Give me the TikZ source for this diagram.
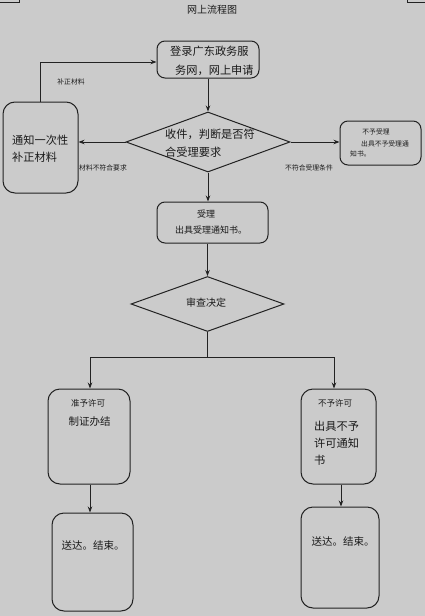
\documentclass[tikz,border=0pt]{standalone}
\usepackage{fontspec}
\setmainfont{Noto Sans CJK SC}
\usetikzlibrary{arrows.meta,shapes.geometric}
\definecolor{bg}{HTML}{CBCBCB}
\definecolor{ln}{HTML}{222222}
\definecolor{tx}{HTML}{1A1A1A}
\tikzset{
  box/.style={draw=ln, line width=1pt, rounded corners=#1, inner sep=0pt},
  box/.default=8pt,
  dia/.style={draw=ln, line width=1pt, diamond, inner sep=0pt},
  arr/.style={draw=ln, line width=1pt, -{Stealth[length=6pt,width=4.5pt]}},
  conn/.style={draw=ln, line width=1pt},
  txt/.style={text=tx, inner sep=0pt},
  big/.style={txt, font=\fontsize{11.2pt}{14pt}\selectfont},
  mid/.style={txt, font=\fontsize{10.5pt}{13pt}\selectfont},
  sml/.style={txt, font=\fontsize{8.5pt}{10pt}\selectfont},
  tiny/.style={txt, font=\fontsize{6.8pt}{8pt}\selectfont},
}
\begin{document}
\begin{tikzpicture}[x=1pt,y=-1pt]
\fill[bg] (0,0) rectangle (425,616);
\useasboundingbox (0,0) rectangle (425,616);
% corner marks
\draw[ln, line width=0.6pt] (0,2.5) -- (19,2.5) -- (19,0);
\draw[ln, line width=0.6pt] (425,2.5) -- (407,2.5) -- (407,0);
% title
\node[txt, font=\fontsize{10pt}{12pt}\selectfont] (title) at (212,10) {网上流程图};
% box 1
\node[box, minimum width=102pt, minimum height=37pt] (b1) at (208,59.5) {};
\node[big, anchor=west] (b1t1) at (170,51) {登录广东政务服};
\node[big, anchor=west] (b1t2) at (175,70) {务网，网上申请};
% diamond 1
\node[dia, minimum width=164pt, minimum height=60pt] (d1) at (208,142) {};
\node[big, anchor=west] (d1t1) at (165,134) {收件，判断是否符};
\node[big, anchor=west] (d1t2) at (165,152) {合受理要求};
% left box
\node[box=12pt, minimum width=75pt, minimum height=91pt] (lb) at (40.5,147.5) {};
\node[big, anchor=west] (lbt1) at (12,140) {通知一次性};
\node[big, anchor=west] (lbt2) at (12,157) {补正材料};
% right box
\node[box, minimum width=81pt, minimum height=44pt] (rb) at (380.5,143) {};
\node[tiny] (rbt1) at (376,132) {不予受理};
\node[tiny, anchor=west] (rbt2) at (361,144) {出具不予受理通};
\node[tiny, anchor=west] (rbt3) at (350,154) {知书。};
% box 3
\node[box, minimum width=111pt, minimum height=41pt] (b3) at (212.5,222.5) {};
\node[txt, font=\fontsize{9pt}{11pt}\selectfont] (b3t1) at (206,214) {受理};
\node[txt, font=\fontsize{9pt}{11pt}\selectfont] (b3t2) at (211,230) {出具受理通知书。};
% diamond 2
\node[dia, minimum width=153pt, minimum height=55pt] (d2) at (207.5,304) {};
\node[txt, font=\fontsize{10pt}{12pt}\selectfont] (d2t) at (206,303) {审查决定};
% bottom boxes
\node[box=12pt, minimum width=82pt, minimum height=95pt] (l1) at (89,436.5) {};
\node[sml] (l1t1) at (88,403) {准予许可};
\node[mid] (l1t2) at (89.5,422) {制证办结};
\node[box=12pt, minimum width=81pt, minimum height=98pt] (l2) at (92.5,562) {};
\node[mid] (l2t) at (93,546) {送达。结束。};
\node[box=12pt, minimum width=75pt, minimum height=95pt] (r1) at (338.5,436.5) {};
\node[sml] (r1t1) at (335,403) {不予许可};
\node[big, anchor=west] (r1t2) at (314,426) {出具不予};
\node[big, anchor=west] (r1t3) at (314,443) {许可通知};
\node[big, anchor=west] (r1t4) at (314,460) {书};
\node[box=12pt, minimum width=78pt, minimum height=101pt] (r2) at (340,557.5) {};
\node[mid] (r2t) at (343,542) {送达。结束。};
% edge labels
\node[tiny] (lab1) at (71,82) {补正材料};
\node[tiny] (lab2) at (103,168) {材料不符合要求};
\node[tiny] (lab3) at (309,168) {不符合受理条件};
% connectors
\draw[arr] (b1.south) -- (d1.north);
\draw[arr] (d1.west) -- (d1.west -| lb.east);
\draw[arr] (lb.north) |- ([yshift=-2.5pt]b1.west);
\draw[arr] (d1.east) -- (d1.east -| rb.west);
\draw[arr] (d1.south) -- (d1.south |- b3.north);
\draw[arr] (b3.south -| d2.north) -- (d2.north);
\coordinate (sp) at (208,357);
\draw[conn] (d2.south) -- (d2.south |- sp);
\draw[arr] (d2.south |- sp) -| ([xshift=1pt]l1.north);
\draw[arr] (d2.south |- sp) -| ([xshift=-4.5pt]r1.north);
\draw[arr] ([xshift=1pt]l1.south) -- ([xshift=1pt]l1.south |- l2.north);
\draw[arr] ([xshift=2.5pt]r1.south) -- ([xshift=2.5pt]r1.south |- r2.north);
\end{tikzpicture}
\end{document}
